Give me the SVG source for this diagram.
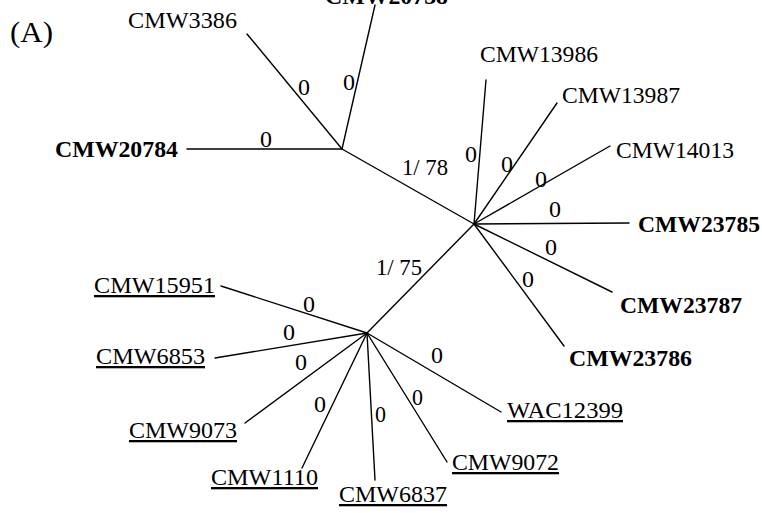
<svg xmlns="http://www.w3.org/2000/svg" width="762" height="513" viewBox="0 0 762 513">
<style>
text{font-family:"Liberation Serif","Times New Roman",serif;font-size:23px;fill:#000}
.b{font-weight:bold}
.u{text-decoration:underline}
.e line{stroke:#000;stroke-width:1.4;stroke-linecap:round}
</style>
<rect width="762" height="513" fill="#fff"/>
<text id="panel" x="10" y="42" style="font-size:29px" textLength="43" lengthAdjust="spacingAndGlyphs">(A)</text>
<g id="connectors" class="e">
<line x1="342" y1="149" x2="247" y2="34"/>
<line x1="342" y1="149" x2="375" y2="5"/>
<line x1="342" y1="149" x2="187" y2="149"/>
<line x1="342" y1="149" x2="474" y2="224"/>
<line x1="474" y1="224" x2="486" y2="80"/>
<line x1="474" y1="224" x2="557" y2="103"/>
<line x1="474" y1="224" x2="610" y2="146"/>
<line x1="474" y1="224" x2="629" y2="223"/>
<line x1="474" y1="224" x2="612" y2="292"/>
<line x1="474" y1="224" x2="564" y2="346"/>
<line x1="474" y1="224" x2="367" y2="333"/>
<line x1="367" y1="333" x2="221" y2="286"/>
<line x1="367" y1="333" x2="215" y2="358"/>
<line x1="367" y1="333" x2="245" y2="423"/>
<line x1="367" y1="333" x2="302" y2="468"/>
<line x1="367" y1="333" x2="375" y2="480"/>
<line x1="367" y1="333" x2="447" y2="462"/>
<line x1="367" y1="333" x2="501" y2="412"/>
</g>
<g id="edge-labels">
<text x="298" y="95" textLength="12" lengthAdjust="spacingAndGlyphs">0</text>
<text x="343" y="90" textLength="12" lengthAdjust="spacingAndGlyphs">0</text>
<text x="260" y="147" textLength="12" lengthAdjust="spacingAndGlyphs">0</text>
<text x="402" y="175" textLength="46" lengthAdjust="spacingAndGlyphs">1/ 78</text>
<text x="465" y="162" textLength="12" lengthAdjust="spacingAndGlyphs">0</text>
<text x="501" y="172" textLength="12" lengthAdjust="spacingAndGlyphs">0</text>
<text x="535" y="187" textLength="12" lengthAdjust="spacingAndGlyphs">0</text>
<text x="549" y="217" textLength="12" lengthAdjust="spacingAndGlyphs">0</text>
<text x="545" y="255" textLength="12" lengthAdjust="spacingAndGlyphs">0</text>
<text x="522" y="287" textLength="12" lengthAdjust="spacingAndGlyphs">0</text>
<text x="376" y="275" textLength="46" lengthAdjust="spacingAndGlyphs">1/ 75</text>
<text x="303" y="312" textLength="12" lengthAdjust="spacingAndGlyphs">0</text>
<text x="283" y="340" textLength="12" lengthAdjust="spacingAndGlyphs">0</text>
<text x="295" y="370" textLength="12" lengthAdjust="spacingAndGlyphs">0</text>
<text x="314" y="412" textLength="12" lengthAdjust="spacingAndGlyphs">0</text>
<text x="375" y="422" textLength="11" lengthAdjust="spacingAndGlyphs">0</text>
<text x="412" y="405" textLength="11" lengthAdjust="spacingAndGlyphs">0</text>
<text x="431" y="363" textLength="12" lengthAdjust="spacingAndGlyphs">0</text>
</g>
<g id="CMW3386"><text x="128" y="28" textLength="109" lengthAdjust="spacingAndGlyphs">CMW3386</text></g>
<g id="CMW20738"><text class="b" x="325" y="4" textLength="123" lengthAdjust="spacingAndGlyphs">CMW20738</text></g>
<g id="CMW20784"><text class="b" x="55" y="157" textLength="123" lengthAdjust="spacingAndGlyphs">CMW20784</text></g>
<g id="CMW13986"><text x="480" y="62" textLength="118" lengthAdjust="spacingAndGlyphs">CMW13986</text></g>
<g id="CMW13987"><text x="562" y="103" textLength="118" lengthAdjust="spacingAndGlyphs">CMW13987</text></g>
<g id="CMW14013"><text x="616" y="158" textLength="118" lengthAdjust="spacingAndGlyphs">CMW14013</text></g>
<g id="CMW23785"><text class="b" x="638" y="232" textLength="122" lengthAdjust="spacingAndGlyphs">CMW23785</text></g>
<g id="CMW23787"><text class="b" x="620" y="313" textLength="122" lengthAdjust="spacingAndGlyphs">CMW23787</text></g>
<g id="CMW23786"><text class="b" x="569" y="366" textLength="123" lengthAdjust="spacingAndGlyphs">CMW23786</text></g>
<g id="CMW15951"><text class="u" x="94" y="293" textLength="121" lengthAdjust="spacingAndGlyphs">CMW15951</text></g>
<g id="CMW6853"><text class="u" x="96" y="364" textLength="109" lengthAdjust="spacingAndGlyphs">CMW6853</text></g>
<g id="CMW9073"><text class="u" x="129" y="438" textLength="108" lengthAdjust="spacingAndGlyphs">CMW9073</text></g>
<g id="CMW1110"><text class="u" x="211" y="485" textLength="107" lengthAdjust="spacingAndGlyphs">CMW1110</text></g>
<g id="CMW6837"><text class="u" x="339" y="502" textLength="108" lengthAdjust="spacingAndGlyphs">CMW6837</text></g>
<g id="CMW9072"><text class="u" x="452" y="470" textLength="107" lengthAdjust="spacingAndGlyphs">CMW9072</text></g>
<g id="WAC12399"><text class="u" x="507" y="418" textLength="116" lengthAdjust="spacingAndGlyphs">WAC12399</text></g>
</svg>
